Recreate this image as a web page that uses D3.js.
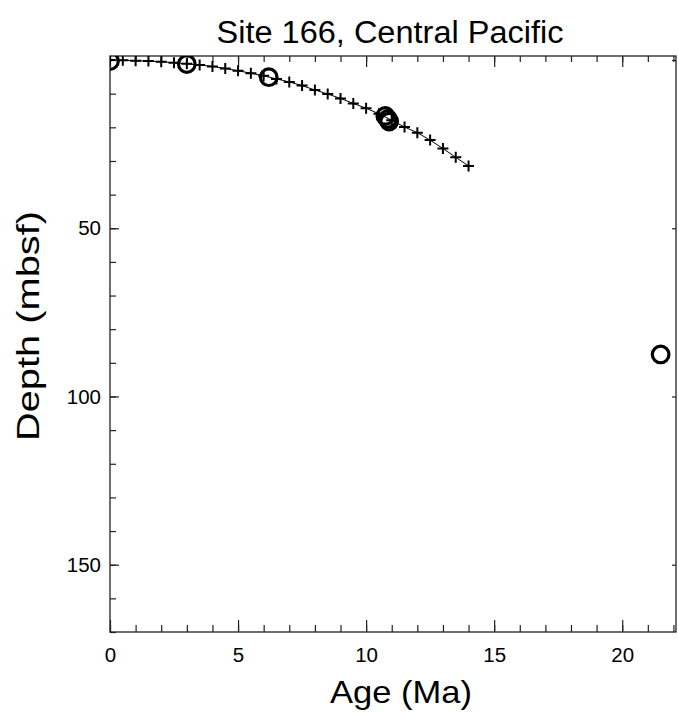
<!DOCTYPE html>
<html><head><meta charset="utf-8">
<script src="https://cdn.jsdelivr.net/npm/d3@7"></script>
<style>body{margin:0;background:#fff}svg{display:block}</style>
</head><body>
<script>
const modelAge = [0,0.5,1,1.5,2,2.5,3,3.5,4,4.5,5,5.5,6,6.5,7,7.5,8,8.5,9,9.5,10,10.5,11,11.5,12,12.5,13,13.5,14];
const modelDepth = [0,0.1,0.2,0.3,0.5,0.8,1.1,1.5,1.9,2.5,3.2,3.9,4.7,5.6,6.5,7.6,8.9,10.1,11.4,12.9,14.3,16.0,17.9,19.9,21.6,23.8,26.3,28.9,31.5];
const obsAge = [0,3.0,6.2,10.75,10.85,10.9,21.5];
const obsDepth = [0.3,1.2,5.1,16.6,17.5,18.3,87.5];
const xMajor = [0,5,10,15,20];
const yMajor = [0,50,100,150];
const title = "Site 166, Central Pacific";
const xLabel = "Age (Ma)";
const yLabel = "Depth (mbsf)";

const W=678,H=717;
const L=110,R=676,T=56,B=632;
const font="'Liberation Sans', Arial, Helvetica, sans-serif";
const svg=d3.select("body").append("svg").attr("width",W).attr("height",H);
const x=d3.scaleLinear().domain([0,22.1]).range([L,R]);
const y=d3.scaleLinear().domain([-1.2,170]).range([T,B]);
const xMinor=d3.range(0,23,1);
const yMinor=d3.range(0,171,10);

function style(g){g.selectAll("path.domain").remove();g.selectAll("line").attr("stroke","#222").attr("stroke-width",1.2);
 g.selectAll("text").attr("font-family",font).attr("font-size",20.5).attr("fill","#000");}

// bottom
svg.append("g").attr("transform",`translate(0,${B})`).call(d3.axisBottom(x).tickValues(xMinor).tickSize(-7).tickFormat("")).call(style);
svg.append("g").attr("transform",`translate(0,${B})`).call(d3.axisBottom(x).tickValues(xMajor).tickSize(-12).tickPadding(15).tickFormat(d3.format("d"))).call(style);
// top
svg.append("g").attr("transform",`translate(0,${T})`).call(d3.axisTop(x).tickValues(xMinor).tickSize(-6).tickFormat("")).call(style);
svg.append("g").attr("transform",`translate(0,${T})`).call(d3.axisTop(x).tickValues(xMajor).tickSize(-11).tickFormat("")).call(style);
// left
svg.append("g").attr("transform",`translate(${L},0)`).call(d3.axisLeft(y).tickValues(yMinor).tickSize(-6).tickFormat("")).call(style);
svg.append("g").attr("transform",`translate(${L},0)`).call(d3.axisLeft(y).tickValues(yMajor.filter(d=>d>0)).tickSize(-9).tickPadding(9).tickFormat(d3.format("d"))).call(style);
// right
svg.append("g").attr("transform",`translate(${R},0)`).call(d3.axisRight(y).tickValues(yMajor).tickSize(-4).tickFormat("")).call(style);

// frame
svg.append("rect").attr("x",L).attr("y",T).attr("width",R-L).attr("height",B-T).attr("fill","none").attr("stroke","#222").attr("stroke-width",1.3);

svg.append("clipPath").attr("id","clip").append("rect").attr("x",L).attr("y",T).attr("width",R-L).attr("height",B-T);
const plot=svg.append("g").attr("clip-path","url(#clip)");

const model=modelAge.map((a,i)=>[a,modelDepth[i]]);
plot.append("path").datum(model).attr("fill","none").attr("stroke","#000").attr("stroke-width",1)
 .attr("d",d3.line().x(d=>x(d[0])).y(d=>y(d[1])));
plot.selectAll("path.plus").data(model).join("path").attr("class","plus")
 .attr("transform",d=>`translate(${x(d[0])},${y(d[1])})`)
 .attr("d","M-5.5,0H5.5M0,-5.5V5.5")
 .attr("stroke","#000").attr("stroke-width",2).attr("fill","none");

const obs=obsAge.map((a,i)=>[a,obsDepth[i]]);
plot.selectAll("circle.obs").data(obs).join("circle").attr("class","obs")
 .attr("cx",d=>x(d[0])).attr("cy",d=>y(d[1])).attr("r",8.3)
 .attr("fill","none").attr("stroke","#000").attr("stroke-width",3.2);

svg.append("text").attr("x",(L+R)/2-3).attr("y",43).attr("text-anchor","middle")
 .attr("font-family",font).attr("font-size",31).attr("textLength",347).attr("lengthAdjust","spacingAndGlyphs").text(title);
svg.append("text").attr("x",401).attr("y",703).attr("text-anchor","middle")
 .attr("font-family",font).attr("font-size",32).attr("textLength",142).attr("lengthAdjust","spacingAndGlyphs").text(xLabel);
svg.append("text").attr("transform",`translate(39,326) rotate(-90)`).attr("text-anchor","middle")
 .attr("font-family",font).attr("font-size",32).attr("textLength",230).attr("lengthAdjust","spacingAndGlyphs").text(yLabel);
</script>
</body></html>
